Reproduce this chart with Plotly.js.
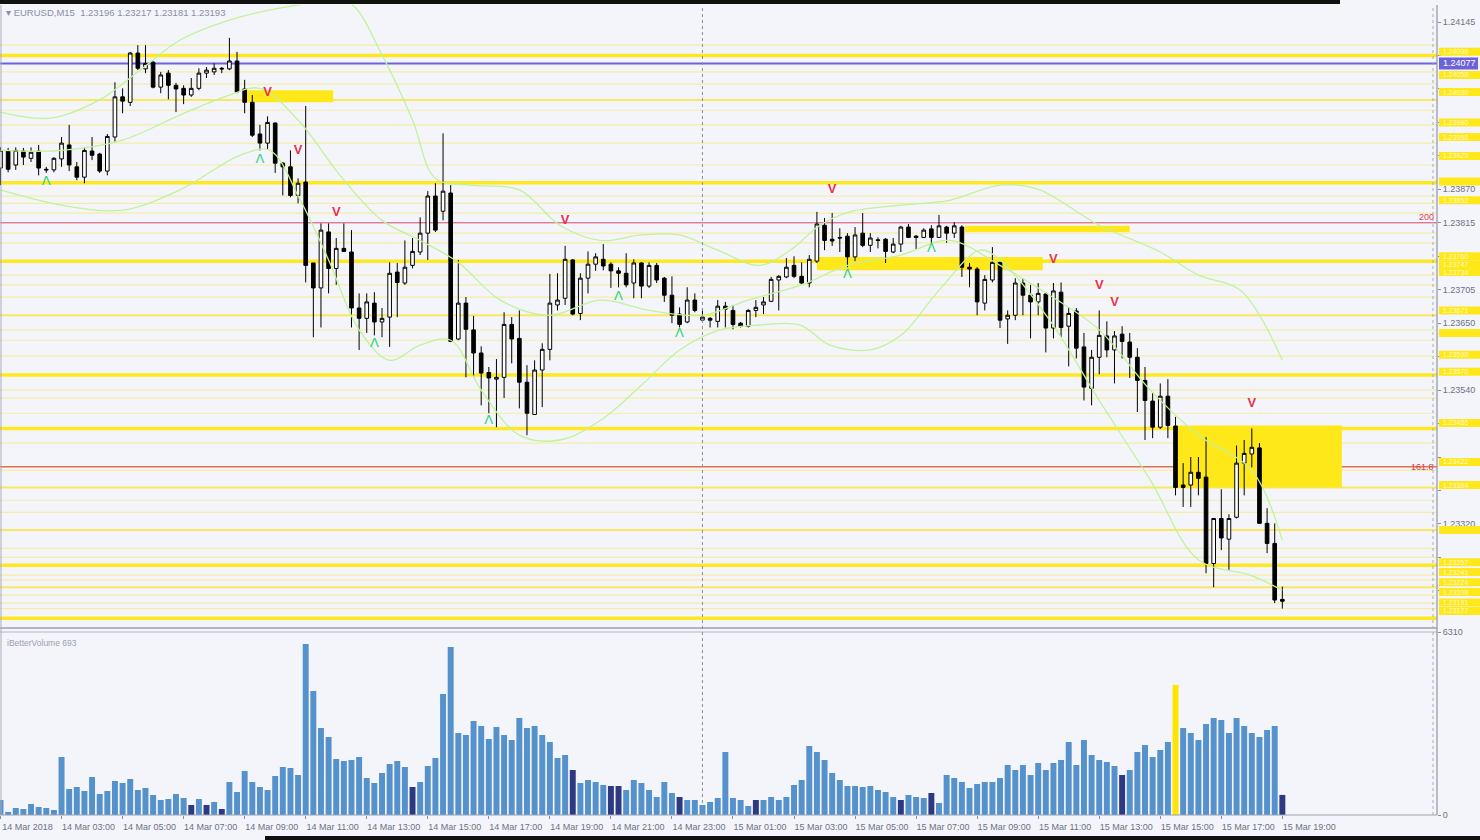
<!DOCTYPE html>
<html><head><meta charset="utf-8">
<script src="https://cdn.plot.ly/plotly-3.0.1.min.js"></script>
<style>html,body{margin:0;padding:0;background:#f4f5fb;overflow:hidden}#chart{width:1480px;height:840px}</style>
</head><body><div id="chart"></div>
<script>
// ---------- DATA ----------
const symbol = "EURUSD,M15";
const openP = [1.23905,1.23933,1.23910,1.23933,1.23921,1.23933,1.23903,1.23902,1.23920,1.23943,
1.23907,1.23890,1.23933,1.23928,1.23900,1.23956,1.24022,1.24013,1.24094,1.24068,
1.24079,1.24038,1.24061,1.24041,1.24036,1.24025,1.24036,1.24061,1.24063,1.24069,
1.24068,1.24081,1.24035,1.24013,1.23961,1.23946,1.23979,1.23913,1.23907,1.23860,
1.23882,1.23749,1.23708,1.23800,1.23740,1.23773,1.23767,1.23675,1.23658,1.23683,
1.23652,1.23660,1.23734,1.23716,1.23745,1.23767,1.23798,1.23859,1.23834,1.23864,
1.23624,1.23683,1.23639,1.23601,1.23569,1.23558,1.23561,1.23648,1.23625,1.23553,
1.23500,1.23573,1.23607,1.23680,1.23691,1.23754,1.23666,1.23724,1.23747,1.23755,
1.23747,1.23736,1.23732,1.23716,1.23749,1.23711,1.23745,1.23724,1.23696,1.23665,
1.23652,1.23688,1.23655,1.23658,1.23653,1.23678,1.23671,1.23650,1.23645,1.23671,
1.23680,1.23686,1.23721,1.23726,1.23745,1.23727,1.23716,1.23752,1.23811,1.23788,
1.23791,1.23793,1.23759,1.23798,1.23778,1.23787,1.23788,1.23767,1.23780,1.23808,
1.23793,1.23791,1.23805,1.23791,1.23808,1.23798,1.23808,1.23742,1.23739,1.23683,
1.23721,1.23750,1.23657,1.23663,1.23716,1.23696,1.23685,1.23698,1.23642,1.23701,
1.23645,1.23670,1.23611,1.23543,1.23594,1.23629,1.23606,1.23632,1.23619,1.23594,
1.23556,1.23522,1.23479,1.23530,1.23481,1.23384,1.23384,1.23405,1.23397,1.23255,
1.23329,1.23295,1.23331,1.23420,1.23435,1.23445,1.23321,1.23288,1.23196];
const highP = [1.23939,1.23938,1.23939,1.23938,1.23939,1.23943,1.23907,1.23923,1.23956,1.23976,
1.23915,1.23939,1.23956,1.23930,1.23961,1.24046,1.24036,1.24096,1.24107,1.24107,
1.24081,1.24063,1.24066,1.24045,1.24041,1.24053,1.24069,1.24071,1.24077,1.24071,
1.24119,1.24096,1.24050,1.24025,1.23976,1.23990,1.23980,1.23915,1.23934,1.23888,
1.24007,1.23749,1.23814,1.23814,1.23790,1.23814,1.23803,1.23699,1.23699,1.23701,
1.23675,1.23750,1.23749,1.23786,1.23790,1.23824,1.23867,1.23880,1.23962,1.23877,
1.23754,1.23693,1.23662,1.23612,1.23578,1.23591,1.23668,1.23660,1.23671,1.23581,
1.23589,1.23617,1.23731,1.23732,1.23777,1.23755,1.23732,1.23768,1.23765,1.23780,
1.23750,1.23742,1.23765,1.23755,1.23750,1.23750,1.23749,1.23726,1.23727,1.23676,
1.23709,1.23699,1.23675,1.23660,1.23688,1.23685,1.23680,1.23652,1.23673,1.23688,
1.23693,1.23726,1.23729,1.23757,1.23760,1.23750,1.23762,1.23833,1.23823,1.23831,
1.23806,1.23798,1.23808,1.23831,1.23798,1.23791,1.23790,1.23790,1.23810,1.23813,
1.23795,1.23806,1.23811,1.23828,1.23810,1.23816,1.23811,1.23749,1.23742,1.23729,
1.23775,1.23750,1.23671,1.23724,1.23724,1.23713,1.23716,1.23701,1.23716,1.23717,
1.23676,1.23675,1.23634,1.23606,1.23671,1.23653,1.23637,1.23645,1.23634,1.23609,
1.23578,1.23535,1.23551,1.23558,1.23496,1.23420,1.23430,1.23430,1.23463,1.23329,
1.23377,1.23336,1.23449,1.23458,1.23477,1.23453,1.23346,1.23321,1.23217];
const lowP = [1.23877,1.23898,1.23902,1.23910,1.23915,1.23893,1.23897,1.23898,1.23907,1.23900,
1.23885,1.23880,1.23918,1.23897,1.23893,1.23948,1.23995,1.24007,1.24066,1.24061,
1.24036,1.24028,1.24018,1.23997,1.24010,1.24022,1.24033,1.24053,1.24058,1.24061,
1.24066,1.24028,1.23995,1.23956,1.23934,1.23936,1.23897,1.23860,1.23857,1.23847,
1.23717,1.23627,1.23643,1.23699,1.23713,1.23767,1.23643,1.23606,1.23634,1.23630,
1.23627,1.23611,1.23660,1.23713,1.23740,1.23762,1.23754,1.23800,1.23819,1.23619,
1.23622,1.23561,1.23561,1.23515,1.23502,1.23479,1.23527,1.23584,1.23510,1.23466,
1.23499,1.23512,1.23589,1.23671,1.23680,1.23663,1.23655,1.23699,1.23736,1.23737,
1.23708,1.23709,1.23709,1.23691,1.23691,1.23708,1.23716,1.23685,1.23650,1.23643,
1.23650,1.23668,1.23652,1.23643,1.23643,1.23643,1.23640,1.23643,1.23643,1.23660,
1.23665,1.23685,1.23671,1.23724,1.23724,1.23714,1.23709,1.23749,1.23770,1.23777,
1.23767,1.23742,1.23752,1.23775,1.23767,1.23773,1.23749,1.23765,1.23767,1.23790,
1.23772,1.23790,1.23782,1.23790,1.23782,1.23790,1.23726,1.23709,1.23663,1.23671,
1.23717,1.23642,1.23616,1.23655,1.23663,1.23625,1.23663,1.23602,1.23625,1.23627,
1.23579,1.23592,1.23523,1.23515,1.23566,1.23594,1.23551,1.23592,1.23560,1.23504,
1.23458,1.23461,1.23476,1.23461,1.23367,1.23348,1.23348,1.23367,1.23239,1.23216,
1.23277,1.23244,1.23329,1.23367,1.23413,1.23321,1.23272,1.23190,1.23181];
const closeP = [1.23934,1.23903,1.23934,1.23923,1.23931,1.23905,1.23902,1.23921,1.23946,1.23910,
1.23890,1.23934,1.23926,1.23900,1.23957,1.24022,1.24015,1.24094,1.24069,1.24077,
1.24038,1.24058,1.24041,1.24035,1.24025,1.24036,1.24061,1.24066,1.24069,1.24068,
1.24081,1.24030,1.24013,1.23959,1.23946,1.23980,1.23913,1.23907,1.23860,1.23880,
1.23745,1.23708,1.23803,1.23740,1.23773,1.23768,1.23675,1.23658,1.23685,1.23652,
1.23658,1.23732,1.23717,1.23742,1.23768,1.23798,1.23859,1.23803,1.23867,1.23620,
1.23683,1.23640,1.23601,1.23568,1.23560,1.23561,1.23648,1.23624,1.23553,1.23502,
1.23573,1.23607,1.23683,1.23688,1.23755,1.23665,1.23724,1.23747,1.23759,1.23744,
1.23736,1.23732,1.23713,1.23749,1.23711,1.23745,1.23721,1.23696,1.23663,1.23648,
1.23688,1.23671,1.23660,1.23655,1.23678,1.23673,1.23648,1.23645,1.23671,1.23676,
1.23685,1.23722,1.23727,1.23742,1.23727,1.23716,1.23755,1.23813,1.23786,1.23785,
1.23790,1.23759,1.23795,1.23778,1.23790,1.23786,1.23768,1.23780,1.23808,1.23791,
1.23791,1.23803,1.23791,1.23810,1.23798,1.23810,1.23742,1.23739,1.23685,1.23722,
1.23750,1.23655,1.23663,1.23716,1.23696,1.23685,1.23699,1.23642,1.23703,1.23643,
1.23666,1.23609,1.23545,1.23594,1.23630,1.23606,1.23629,1.23620,1.23594,1.23556,
1.23523,1.23479,1.23530,1.23482,1.23380,1.23380,1.23405,1.23395,1.23255,1.23329,
1.23297,1.23329,1.23420,1.23436,1.23446,1.23321,1.23288,1.23195,1.23193];
const volume = [518,104,242,207,380,276,242,173,2001,897,
966,828,1311,725,828,1173,1104,1242,863,932,
690,518,552,725,587,345,552,345,449,207,
1139,794,1518,1139,966,863,1346,1656,1622,1380,
5900,4278,3002,2691,1932,1863,1898,2001,1277,1104,
1449,1760,1863,1656,966,1139,1691,1967,4175,5796,
2829,2760,3243,3071,2622,3036,2760,2588,3347,3002,
3071,2760,2519,1967,2070,1553,1104,1208,1139,1035,
1001,1001,863,1208,1104,863,621,1139,759,621,
518,518,345,449,587,2174,587,518,311,518,
518,621,518,621,1035,1208,2381,2174,1898,1449,
1208,1001,1001,966,1001,863,794,621,518,690,
621,587,759,414,1380,1277,1139,932,1070,1139,
1139,1277,1725,1553,1725,1380,1794,1553,1794,1898,
2519,1725,2588,2070,1898,1829,1691,1380,1553,2174,
2415,2001,2243,2519,4485,3002,2829,2588,3140,3347,
3278,2829,3347,3071,2829,2691,2933,3071,693];
const darkVolBars = [25,27,29,54,75,80,81,89,99,118,122,147,168];
const climaxVolBars = [154];
const volMax = 6310;

// x tick labels (bar index of each label)
const tickIdx = [0,8,16,24,32,40,48,56,64,72,80,88,96,104,112,120,128,136,144,152,160,168];
const tickText = ["14 Mar 2018","14 Mar 03:00","14 Mar 05:00","14 Mar 07:00","14 Mar 09:00","14 Mar 11:00",
"14 Mar 13:00","14 Mar 15:00","14 Mar 17:00","14 Mar 19:00","14 Mar 21:00","14 Mar 23:00",
"15 Mar 01:00","15 Mar 03:00","15 Mar 05:00","15 Mar 07:00","15 Mar 09:00","15 Mar 11:00",
"15 Mar 13:00","15 Mar 15:00","15 Mar 17:00","15 Mar 19:00"];
const priceTicks = [1.24145,1.24090,1.24035,1.23980,1.23925,1.23870,1.23815,1.23760,1.23705,1.23650,
1.23595,1.23540,1.23485,1.23430,1.23375,1.23320,1.23265,1.23210];

// horizontal levels
const thickLevels = [1.24090,1.23881,1.23752,1.23565,1.23477,1.23252,1.23165];
const mediumLevels = [1.24017,1.23663,1.23380,1.23310,1.23216];
const thinLevels = [1.24107,1.24063,1.24043,1.24000,1.23976,1.23946,1.23910,1.23859,1.23847,1.23831,
1.23798,1.23782,1.23729,1.23713,1.23693,1.23639,1.23622,1.23596,1.23540,1.23527,1.23502,1.23453,
1.23408,1.23359,1.23339,1.23280,1.23265,1.23236,1.23228,1.23203,1.23190,1.23181];
const blueLevel = 1.24077;
const fibo200 = 1.23815, fibo1618 = 1.23414;
const axisLabelLevels = [1.24096,1.24058,1.24030,1.23980,1.23956,1.23925,1.23883,1.23852,1.23760,1.23747,
1.23734,1.23671,1.23634,1.23598,1.23570,1.23486,1.23422,1.23384,1.23310,1.23257,1.23241,1.23224,1.23208,1.23191,1.23177];

// zones
const zoneStart = [32.3,107,126.4,154];
const zoneEnd   = [43.6,136.6,148,175.8];
const zoneTop   = [1.24033,1.23759,1.23810,1.23482];
const zoneBot   = [1.24013,1.23737,1.23800,1.23380];

// signal arrows
const sellIdx = [35,39,44,74,109,138,144,146,164];
const sellPrice = [1.24028,1.23934,1.23831,1.23818,1.23870,1.23754,1.23711,1.23683,1.23517];
const buyIdx = [6,34,49,64,81,89,111,122];
const buyPrice = [1.23882,1.23918,1.23617,1.23489,1.23694,1.23632,1.23729,1.23773];

// bands
const upperIdx = [0,6.5,13,18.3,23.5,30,36.6,43,46,50,54,57,61.5,68,73.3,78.6,84,89,94,99.5,103.5,107.4,111.3,118,124.4,131,136,144,152,157,162.5,168];
const upperP = [1.23997,1.23987,1.24017,1.24066,1.24115,1.24148,1.24168,1.24178,1.24174,1.24091,1.23984,1.23888,1.23877,1.23869,1.23811,1.23786,1.23795,1.23795,1.23770,1.23745,1.23770,1.23811,1.23833,1.23844,1.23852,1.23877,1.23870,1.23811,1.23767,1.23729,1.23704,1.23589];
const midIdx = [0,8,16,23.5,30,34,39,44.5,50,55,60,65.5,72,78.6,85,92,98,105,111,118,124.4,131,137.5,144,150.7,157,164,168];
const midP = [1.23934,1.23934,1.23951,1.23992,1.24025,1.24036,1.23984,1.23893,1.23819,1.23786,1.23750,1.23688,1.23663,1.23688,1.23671,1.23663,1.23688,1.23713,1.23745,1.23762,1.23786,1.23745,1.23696,1.23639,1.23540,1.23466,1.23408,1.23293];
const lowIdx = [0,8,16,23.5,31.4,35.3,39.3,43,47,51,55,59,63,68,73.3,78.6,84,89,94.3,99.5,104.8,108.7,114,118,123,128.4,131,137.5,144,150.7,157,163.8,168];
const lowBandP = [1.23869,1.23844,1.23836,1.23869,1.23926,1.23934,1.23852,1.23754,1.23639,1.23589,1.23614,1.23622,1.23540,1.23466,1.23458,1.23490,1.23548,1.23606,1.23639,1.23647,1.23647,1.23614,1.23606,1.23630,1.23704,1.23770,1.23754,1.23655,1.23523,1.23392,1.23261,1.23236,1.23211];
const crossIdx = 92;

// ---------- LAYOUT GEOMETRY ----------
const W=1480,H=840,MR=43,MT=5,MB=25;
const plotW=W-MR, plotH=H-MT-MB;
const pxX = x => x/plotW;
const pxY = y => (H-MB-y)/plotH;
const PRICE_LO=1.23149, PRICE_HI=1.24173;
const pricePerPx = (PRICE_HI-PRICE_LO)/623;
const FONT = "Liberation Sans, Arial, sans-serif";
const GREY = "#6c7284";
const idx = openP.map((_,i)=>i);
const last = openP.length-1;

// axis tick labels hidden under object labels are not drawn (as in the terminal)
const shownTicks = priceTicks.filter(t => !axisLabelLevels.some(b => Math.abs(b-t) < 5.5*pricePerPx) && Math.abs(blueLevel-t) > 6.5*pricePerPx);
const boxTextLevels = axisLabelLevels.filter(b => !shownTicks.some(t => Math.abs(b-t) < 10*pricePerPx));

const volColors = volume.map((_,i)=> climaxVolBars.includes(i) ? "#ffe600" : (darkVolBars.includes(i) ? "#2d3a82" : "#5592cb"));

const bandStyle = {color:"#c2f29a", width:1.3, shape:"spline", smoothing:1};
const traces = [
 {type:"scatter",mode:"lines",x:upperIdx,y:upperP,line:bandStyle,hoverinfo:"skip",xaxis:"x",yaxis:"y"},
 {type:"scatter",mode:"lines",x:midIdx,y:midP,line:bandStyle,hoverinfo:"skip",xaxis:"x",yaxis:"y"},
 {type:"scatter",mode:"lines",x:lowIdx,y:lowBandP,line:bandStyle,hoverinfo:"skip",xaxis:"x",yaxis:"y"},
 {type:"candlestick",x:idx,open:openP,high:highP,low:lowP,close:closeP,xaxis:"x",yaxis:"y",
  increasing:{line:{color:"#000000",width:1},fillcolor:"#ffffff"},
  decreasing:{line:{color:"#000000",width:1},fillcolor:"#000000"},
  whiskerwidth:0,hoverinfo:"skip"},
 {type:"scatter",mode:"text",x:sellIdx,y:sellPrice,text:sellIdx.map(()=>"<b>V</b>"),
  textfont:{family:FONT,size:13,color:"#e8324e"},hoverinfo:"skip",xaxis:"x",yaxis:"y",cliponaxis:false},
 {type:"scatter",mode:"text",x:buyIdx,y:buyPrice,text:buyIdx.map(()=>"Λ"),
  textfont:{family:"DejaVu Sans, sans-serif",size:13,color:"#33d17a"},hoverinfo:"skip",xaxis:"x",yaxis:"y",cliponaxis:false},
 {type:"bar",x:idx,y:volume,xaxis:"x",yaxis:"y2",width:0.78,marker:{color:volColors,line:{width:0}},hoverinfo:"skip"}
];

const shapes = [];
const hline = (p,color,width)=>shapes.push({type:"line",xref:"paper",x0:0,x1:1,yref:"y",y0:p,y1:p,line:{color,width},layer:"below"});
thinLevels.forEach(p=>hline(p,"#f6eca6",1.2));
mediumLevels.forEach(p=>hline(p,"#fbe75e",2));
thickLevels.forEach(p=>hline(p,"#ffe81f",3.5));
zoneStart.forEach((s,i)=>shapes.push({type:"rect",xref:"x",yref:"y",x0:s,x1:zoneEnd[i],y0:zoneBot[i],y1:zoneTop[i],fillcolor:"#ffe81a",line:{width:0},layer:"below"}));
hline(blueLevel,"#6d62d9",2);
hline(fibo200,"#d9486a",1);
hline(fibo1618,"#e07345",1.5);
// pane frames
const gl = (x0,y0,x1,y1,color,width,dash)=>shapes.push({type:"line",xref:"paper",yref:"paper",x0,y0,x1,y1,line:{color,width,dash:dash||"solid"},layer:"above"});
gl(0,pxY(628),1,pxY(628),"#9ea1ae",1.5);
gl(0,pxY(632),1,pxY(632),"#b4b7c3",1);
gl(0,0,1,0,"#9ea1ae",1);
gl(1,0,1,1,"#8f93a3",1.2);
gl(0.0007,0,0.0007,1,"#a9acb8",1);
gl(pxX(1433),0,pxX(1433),1,"#a7aab8",1,"dot");
shapes.push({type:"line",xref:"x",yref:"paper",x0:crossIdx,x1:crossIdx,y0:0,y1:1,line:{color:"#8d909c",width:1,dash:"dot"},layer:"above"});
// axis price labels of objects
axisLabelLevels.forEach(p=>shapes.push({type:"rect",xref:"paper",x0:pxX(1439),x1:pxX(1480),yref:"y",y0:p-4*pricePerPx,y1:p+4*pricePerPx,fillcolor:"#ffe81a",line:{width:0},layer:"above"}));
shapes.push({type:"rect",xref:"paper",x0:pxX(1439),x1:pxX(1478),yref:"y",y0:blueLevel-6*pricePerPx,y1:blueLevel+6*pricePerPx,fillcolor:"#6d62d9",line:{width:0},layer:"above"});
// scan borders
shapes.push({type:"rect",xref:"paper",yref:"paper",x0:0,x1:pxX(1340),y0:pxY(4),y1:pxY(0),fillcolor:"#111111",line:{width:0},layer:"above"});
shapes.push({type:"rect",xref:"paper",yref:"paper",x0:pxX(265),x1:pxX(1480),y0:pxY(840),y1:pxY(836),fillcolor:"#111111",line:{width:0},layer:"above"});

const annotations = [
 {xref:"paper",yref:"paper",x:pxX(4),y:pxY(13),xanchor:"left",yanchor:"middle",showarrow:false,
  text:"▾ "+symbol+"\u00a0\u00a0"+[openP[last],highP[last],lowP[last],closeP[last]].map(v=>v.toFixed(5)).join(" "),
  font:{family:FONT,size:9.5,color:"#8a8fa3"}},
 {xref:"paper",yref:"paper",x:pxX(5),y:pxY(643),xanchor:"left",yanchor:"middle",showarrow:false,
  text:"iBetterVolume "+volume[last],font:{family:FONT,size:8.5,color:"#9a9fb0"}},
 {xref:"paper",yref:"y",x:pxX(1436),y:fibo200,xanchor:"right",yanchor:"bottom",yshift:-1,showarrow:false,
  text:"200",font:{family:FONT,size:9,color:"#e0405a"}},
 {xref:"paper",yref:"y",x:pxX(1436),y:fibo1618,xanchor:"right",yanchor:"middle",showarrow:false,
  text:"161.8",font:{family:FONT,size:9,color:"#d8403e"}},
 {xref:"paper",yref:"y",x:pxX(1441),y:blueLevel,xanchor:"left",yanchor:"middle",showarrow:false,
  text:blueLevel.toFixed(5),font:{family:FONT,size:9,color:"#ffffff"}}
];
boxTextLevels.forEach(p=>annotations.push({xref:"paper",yref:"y",x:pxX(1441),y:p,xanchor:"left",yanchor:"middle",showarrow:false,
  text:p.toFixed(5),font:{family:FONT,size:7,color:"#fff8d0"}}));

const tickfont = {family:FONT,size:9,color:GREY};
const layout = {
 width:W,height:H,margin:{l:0,r:MR,t:MT,b:MB},
 paper_bgcolor:"#f4f5fb",plot_bgcolor:"#f4f5fb",showlegend:false,
 xaxis:{domain:[0,1],anchor:"y2",range:[-0.066,188.27],tickvals:tickIdx,ticktext:tickText,
   ticks:"outside",ticklen:3,tickcolor:"#8a8f9e",showgrid:false,zeroline:false,showline:false,
   tickfont,ticklabelshift:27,rangeslider:{visible:false},fixedrange:true},
 yaxis:{domain:[pxY(628),1],range:[PRICE_LO,PRICE_HI],side:"right",anchor:"x",tickvals:priceTicks,
   ticktext:priceTicks.map(v=>shownTicks.includes(v)?v.toFixed(5):""),ticks:"outside",ticklen:3,tickcolor:"#8a8f9e",
   showgrid:false,zeroline:false,showline:false,tickfont,fixedrange:true},
 yaxis2:{domain:[0,pxY(632)],range:[0,6313],side:"right",anchor:"x",tickvals:[0,volMax],
   ticktext:["0",String(volMax)],ticks:"outside",ticklen:3,tickcolor:"#8a8f9e",
   showgrid:false,zeroline:false,showline:false,tickfont,fixedrange:true},
 boxgap:0.32,
 shapes,annotations
};
Plotly.newPlot("chart",traces,layout,{displayModeBar:false,staticPlot:true});
</script></body></html>
